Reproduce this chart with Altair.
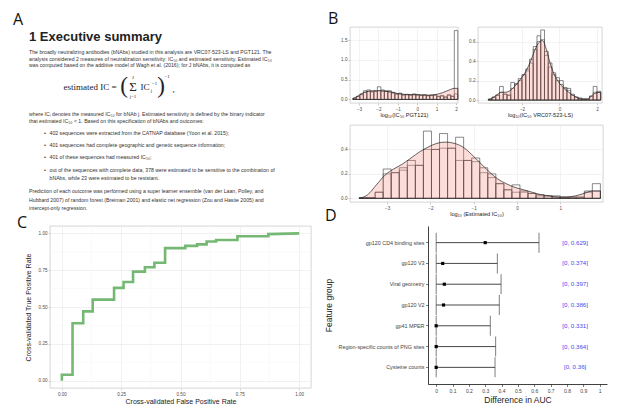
import altair as alt
import pandas as pd

SANS = "Liberation Sans, DejaVu Sans, sans-serif"
SERIF = "Liberation Serif, DejaVu Serif, serif"
LETTER = "Open Sans, Liberation Sans, sans-serif"
TXT = "#333333"
GRID = "#EBEBEB"
BORDER = "#B8B8B8"
TICKLAB = "#4D4D4D"

# ================= Panel A : report text =================
a_heading = "1 Executive summary"
a_lines = [
    "The broadly neutralizing antibodies (bNAbs) studied in this analysis are VRC07-523-LS and PGT121. The",
    "analysis considered 2 measures of neutralization sensitivity: IC₅₀ and estimated sensitivity. Estimated IC₅₀",
    "was computed based on the additive model of Wagh et al. (2016); for J bNAbs, it is computed as",
    "where ICⱼ denotes the measured IC₅₀ for bNAb j. Estimated sensitivity is defined by the binary indicator",
    "that estimated IC₅₀ < 1. Based on this specification of bNAbs and outcomes:",
    "402 sequences were extracted from the CATNAP database (Yoon et al. 2015);",
    "401 sequences had complete geographic and genetic sequence information;",
    "401 of these sequences had measured IC₅₀;",
    "out of the sequences with complete data, 378 were estimated to be sensitive to the combination of",
    "bNAbs, while 23 were estimated to be resistant.",
    "Prediction of each outcome was performed using a super learner ensemble (van der Laan, Polley, and",
    "Hubbard 2007) of random forest (Breiman 2001) and elastic net regression (Zou and Hastie 2005) and",
    "intercept-only regression.",
]
a_formula = ["estimated IC =", "(", "Σ", "J", "j=1", "IC", "j", "−1", ")", "−1", ","]

# layout of panel A (page pixels)
a_line_x = [29, 29, 29, 29, 29, 49.5, 49.5, 49.5, 49.5, 49.5, 29, 29, 29]
a_line_y = [51, 57.6, 64.3, 113, 120, 132, 144, 156, 169, 177, 190, 198.5, 207]
a_bullet_y = [132, 144, 156, 169]
a_formula_x = [90, 124, 133, 133, 133, 145, 151.5, 154.5, 161, 167, 173.5]
a_formula_y = [86, 85, 86, 76.5, 96, 86, 89.5, 82.5, 85, 75.5, 88]
a_formula_s = [9.0, 23, 13, 4.8, 4.8, 9, 4.8, 4.8, 23, 4.8, 9]

# ================= Panel B : histograms =================
b1_title = "log₁₀(IC₅₀ PGT121)"
b1_start, b1_width = -3.31, 0.18
b1_white = [0.03, 0.08, 0.14, 0.22, 0.24, 0.20, 0.21, 0.32, 0.24, 0.22, 0.22, 0.18, 0.14, 0.16, 0.12,
            0.13, 0.12, 0.14, 0.12, 0.11, 0.12, 0.10, 0.11, 0.12, 0.08, 0.10, 0.06, 0.12, 0.08, 1.74]
b1_inner = [0.03, 0.07, 0.12, 0.18, 0.20, 0.19, 0.20, 0.22, 0.21, 0.20, 0.19, 0.16, 0.13, 0.14, 0.11,
            0.12, 0.11, 0.12, 0.11, 0.10, 0.11, 0.09, 0.10, 0.10, 0.07, 0.08, 0.06, 0.10, 0.08, 0.14]
b1_dx = [-3.31, -3.1, -2.9, -2.7, -2.5, -2.3, -2.1, -1.9, -1.7, -1.5, -1.3, -1.1, -0.9, -0.7, -0.5,
         -0.3, -0.1, 0.1, 0.3, 0.5, 0.7, 0.9, 1.1, 1.3, 1.5, 1.7, 1.9, 2.09]
b1_dy = [0.02, 0.07, 0.13, 0.18, 0.21, 0.22, 0.22, 0.22, 0.21, 0.20, 0.18, 0.16, 0.14, 0.13, 0.12,
         0.12, 0.12, 0.12, 0.11, 0.11, 0.11, 0.12, 0.14, 0.17, 0.21, 0.25, 0.28, 0.28]
b1_xticks = [-3, -2, -1, 0, 1, 2]
b1_yticks = [0.0, 0.5, 1.0, 1.5]

b2_title = "log₁₀(IC₅₀ VRC07-523-LS)"
b2_start, b2_width = -3.8, 0.2
b2_white = [0.01, 0.03, 0.05, 0.14, 0.06, 0.05, 0.18, 0.17, 0.22, 0.26, 0.32, 0.42, 0.55, 0.66, 0.72,
            0.50, 0.38, 0.28, 0.23, 0.20, 0.13, 0.12, 0.06, 0.03, 0.02, 0.01, 0.01, 0.04, 0.14, 0.09]
b2_inner = [0.01, 0.03, 0.05, 0.08, 0.06, 0.05, 0.12, 0.16, 0.20, 0.26, 0.30, 0.38, 0.52, 0.60, 0.62,
            0.46, 0.34, 0.26, 0.20, 0.16, 0.12, 0.10, 0.05, 0.03, 0.02, 0.01, 0.01, 0.04, 0.08, 0.08]
b2_dx = [-3.8, -3.5, -3.3, -3.1, -2.9, -2.7, -2.5, -2.3, -2.1, -1.9, -1.7, -1.5, -1.3, -1.1, -0.9,
         -0.7, -0.5, -0.3, -0.1, 0.1, 0.3, 0.5, 0.7, 0.9, 1.1, 1.3, 1.5, 1.7, 1.9, 2.2]
b2_dy = [0.0, 0.03, 0.06, 0.08, 0.08, 0.09, 0.12, 0.16, 0.21, 0.26, 0.33, 0.42, 0.52, 0.59, 0.61,
         0.52, 0.38, 0.27, 0.20, 0.15, 0.11, 0.08, 0.05, 0.03, 0.01, 0.01, 0.01, 0.04, 0.07, 0.08]
b2_xticks = [-2, 0, 2]
b2_yticks = [0.0, 0.2, 0.4, 0.6]

b3_title = "log₁₀ (Estimated IC₅₀)"
b3_start, b3_width = -3.65, 0.186
b3_white = [0.005, 0.005, 0.05, 0.24, 0.21, 0.25, 0.31, 0.27, 0.55, 0.40, 0.53, 0.41, 0.50, 0.31, 0.33,
            0.25, 0.20, 0.12, 0.07, 0.11, 0.06, 0.04, 0.03, 0.02, 0.02, 0.01, 0.01, 0.01, 0.06, 0.12]
b3_inner = [0.005, 0.005, 0.05, 0.20, 0.21, 0.23, 0.27, 0.27, 0.40, 0.40, 0.41, 0.41, 0.31, 0.31, 0.30,
            0.21, 0.17, 0.12, 0.07, 0.05, 0.05, 0.04, 0.02, 0.02, 0.01, 0.01, 0.01, 0.01, 0.05, 0.06]
b3_dx = [-3.65, -3.45, -3.25, -3.05, -2.85, -2.65, -2.45, -2.25, -2.05, -1.85, -1.65, -1.45, -1.25,
         -1.05, -0.85, -0.65, -0.45, -0.25, -0.05, 0.15, 0.35, 0.55, 0.75, 0.95, 1.15, 1.35, 1.55, 1.75, 1.93]
b3_dy = [0.0, 0.03, 0.11, 0.19, 0.24, 0.28, 0.33, 0.38, 0.42, 0.45, 0.46, 0.45, 0.42, 0.36, 0.29,
         0.22, 0.16, 0.12, 0.09, 0.07, 0.05, 0.03, 0.02, 0.01, 0.01, 0.02, 0.04, 0.06, 0.06]
b3_xticks = [-3, -2, -1, 0, 1]
b3_yticks = [0.0, 0.2, 0.4]

# ================= Panel C : ROC curve =================
roc_fpr = [0.0, 0.0, 0.045, 0.045, 0.09, 0.09, 0.13, 0.13, 0.22, 0.22, 0.26, 0.26, 0.30, 0.30, 0.35,
           0.35, 0.39, 0.39, 0.435, 0.435, 0.52, 0.52, 0.57, 0.57, 0.61, 0.61, 0.65, 0.65, 0.74, 0.74,
           0.87, 0.87, 1.0]
roc_tpr = [0.0, 0.04, 0.04, 0.39, 0.39, 0.47, 0.47, 0.55, 0.55, 0.63, 0.63, 0.67, 0.67, 0.74, 0.74,
           0.77, 0.77, 0.80, 0.80, 0.90, 0.90, 0.915, 0.915, 0.925, 0.925, 0.945, 0.945, 0.955, 0.955,
           0.98, 0.98, 0.995, 1.0]
c_ticks = [0.0, 0.25, 0.5, 0.75, 1.0]
c_minor = [0.125, 0.375, 0.625, 0.875]

# ================= Panel D : variable importance =================
d_groups = ["gp120 CD4 binding sites", "gp120 V3", "Viral geometry", "gp120 V2", "gp41 MPER",
            "Region-specific counts of PNG sites", "Cysteine counts"]
d_est = [0.30, 0.04, 0.05, 0.045, 0.0, 0.0, 0.0]
d_lo = [0, 0, 0, 0, 0, 0, 0]
d_hi = [0.629, 0.374, 0.397, 0.386, 0.331, 0.364, 0.36]
d_xticks = [0, 0.1, 0.2, 0.3, 0.4, 0.5, 0.6, 0.7, 0.8, 0.9, 1]
d_label_x = 0.85


def letter_layer(ch, px, py):
    return alt.Chart(pd.DataFrame({"t": [ch]})).mark_text(
        font=LETTER, fontSize=16, align="left", baseline="alphabetic", color="#111"
    ).encode(text="t:N", x=alt.value(px), y=alt.value(py))


# ---------- A ----------
ax = alt.Scale(domain=[50, 308], nice=False, zero=False)
ay = alt.Scale(domain=[26, 204], nice=False, zero=False, reverse=True)


def a_enc(ch):
    return ch.encode(x=alt.X("x:Q", scale=ax, axis=None), y=alt.Y("y:Q", scale=ay, axis=None), text="t:N")


a_body = a_enc(alt.Chart(pd.DataFrame({"t": a_lines, "x": a_line_x, "y": a_line_y})).mark_text(
    font=SANS, fontSize=5.2, align="left", baseline="middle", color=TXT))
a_bul = a_enc(alt.Chart(pd.DataFrame({"t": ["•"] * len(a_bullet_y), "x": [44] * len(a_bullet_y), "y": a_bullet_y})).mark_text(
    font=SANS, fontSize=5.2, align="left", baseline="middle", color=TXT))
a_head = a_enc(alt.Chart(pd.DataFrame({"t": [a_heading], "x": [29], "y": [39.5]})).mark_text(
    font=SANS, fontSize=13, fontWeight="bold", align="left", baseline="alphabetic", color="#222"))
a_form = a_enc(alt.Chart(pd.DataFrame({"t": a_formula, "x": a_formula_x, "y": a_formula_y, "s": a_formula_s})).mark_text(
    font=SERIF, align="center", baseline="middle", color="#222")).encode(size=alt.Size("s:Q", scale=None))
a_lab = a_enc(alt.Chart(pd.DataFrame({"t": ["A"], "x": [13], "y": [23.5]})).mark_text(
    font=LETTER, fontSize=16, align="left", baseline="alphabetic", color="#111"))

panel_a = alt.layer(a_body, a_bul, a_head, a_form, a_lab).properties(width=258, height=178)


# ---------- B ----------
def hist_panel(start, width, white, inner, dxs, dys, xdom, ydom, xticks, yticks, yfmt, w, h, xtitle, letter=None):
    n = len(white)
    edges = [round(start + i * width, 4) for i in range(n + 1)]
    bars = pd.DataFrame({"x0": edges[:-1], "x1": edges[1:], "white": white, "inner": inner})
    dens = pd.DataFrame({"x": dxs, "y": dys})
    xs = alt.Scale(domain=xdom, nice=False, zero=False)
    ys = alt.Scale(domain=ydom, nice=False, zero=False)
    xa = alt.Axis(values=xticks, format="d", title=xtitle, grid=True, gridColor=GRID, gridWidth=0.6,
                  domain=False, tickSize=2, tickColor="#999999", tickWidth=0.5, labelFontSize=4.6,
                  labelColor=TICKLAB, labelPadding=1, titleFontSize=5.6, titleColor="#222222",
                  titleFontWeight="normal", titlePadding=2, labelOverlap=False)
    ya = alt.Axis(values=yticks, format=yfmt, title=None, grid=True, gridColor=GRID, gridWidth=0.6,
                  domain=False, tickSize=2, tickColor="#999999", tickWidth=0.5, labelFontSize=4.6,
                  labelColor=TICKLAB, labelPadding=1, labelOverlap=False)
    white_l = alt.Chart(bars).mark_rect(fill="white", stroke="#3A3A3A", strokeWidth=0.6).encode(
        x=alt.X("x0:Q", scale=xs, axis=xa), x2="x1:Q",
        y=alt.Y("white:Q", scale=ys, axis=ya), y2=alt.datum(0))
    inner_l = alt.Chart(bars).mark_rect(fillOpacity=0, stroke="#3A3A3A", strokeWidth=0.5).encode(
        x=alt.X("x0:Q", scale=xs, axis=xa), x2="x1:Q",
        y=alt.Y("inner:Q", scale=ys, axis=ya), y2=alt.datum(0))
    dens_l = alt.Chart(dens).mark_area(fill="#F8766D", fillOpacity=0.25, stroke="#222222", strokeWidth=0.7,
                                       interpolate="monotone").encode(
        x=alt.X("x:Q", scale=xs, axis=xa), y=alt.Y("y:Q", scale=ys, axis=ya), y2=alt.datum(0))
    layers = [white_l, inner_l, dens_l]
    if letter is not None:
        layers.append(letter_layer(*letter))
    return alt.layer(*layers).properties(
        width=w, height=h, view=alt.ViewBackground(stroke=BORDER, strokeWidth=0.6))


panel_b1 = hist_panel(b1_start, b1_width, b1_white, b1_inner, b1_dx, b1_dy, [-3.46, 2.1], [-0.09, 1.83],
                      b1_xticks, b1_yticks, ".1f", 108, 76, b1_title, letter=("B", -22, -3))
panel_b2 = hist_panel(b2_start, b2_width, b2_white, b2_inner, b2_dx, b2_dy, [-4.35, 2.27], [-0.03, 0.75],
                      b2_xticks, b2_yticks, ".1f", 124, 76, b2_title)
panel_b3 = hist_panel(b3_start, b3_width, b3_white, b3_inner, b3_dx, b3_dy, [-3.86, 1.99], [-0.03, 0.6],
                      b3_xticks, b3_yticks, ".1f", 253, 77, b3_title)

# ---------- C ----------
cxs = alt.Scale(domain=[-0.05, 1.05], nice=False, zero=False)
cys = alt.Scale(domain=[-0.05, 1.05], nice=False, zero=False)
c_axis_common = dict(values=c_ticks, format=".2f", grid=True, gridColor=GRID, gridWidth=0.7, domain=False,
                     tickSize=2, tickColor="#AAAAAA", tickWidth=0.5, labelFontSize=4.6, labelColor=TICKLAB,
                     labelPadding=1, titleFontSize=7, titleColor="#222222", titleFontWeight="normal",
                     labelOverlap=False)
cxa = alt.Axis(title="Cross-validated False Positive Rate", titlePadding=2, **c_axis_common)
cya = alt.Axis(title="Cross-validated True Positive Rate", titlePadding=7, **c_axis_common)
c_df = pd.DataFrame({"fpr": roc_fpr, "tpr": roc_tpr, "i": list(range(len(roc_fpr)))})
c_vminor = alt.Chart(pd.DataFrame({"v": c_minor})).mark_rule(color="#F5F5F5", strokeWidth=0.5).encode(
    x=alt.X("v:Q", scale=cxs, axis=cxa))
c_hminor = alt.Chart(pd.DataFrame({"v": c_minor})).mark_rule(color="#F5F5F5", strokeWidth=0.5).encode(
    y=alt.Y("v:Q", scale=cys, axis=cya))
c_line = alt.Chart(c_df).mark_line(color="#74B874", strokeWidth=2.6).encode(
    x=alt.X("fpr:Q", scale=cxs, axis=cxa), y=alt.Y("tpr:Q", scale=cys, axis=cya), order="i:Q")
panel_c = alt.layer(c_vminor, c_hminor, c_line, letter_layer("C", -33, 2)).properties(
    width=261, height=162, view=alt.ViewBackground(stroke=BORDER, strokeWidth=0.6))

# ---------- D ----------
d_df = pd.DataFrame({"g": d_groups, "est": d_est, "lo": d_lo, "hi": d_hi,
                     "lab": [f"[{a:g}, {b:g}]" for a, b in zip(d_lo, d_hi)]})
dxs = alt.Scale(domain=[-0.05, 1.045], nice=False, zero=False)
dys = alt.Scale(padding=0.6)
dxa = alt.Axis(values=d_xticks, format="~g", title="Difference in AUC", grid=False, labelFontSize=5,
               labelColor="#444444", tickSize=2.5, tickColor="#222222", tickWidth=0.6, domainColor="#111111",
               domainWidth=0.8, titleFontSize=8.5, titleColor="#222222", titleFontWeight="normal",
               titlePadding=2, labelPadding=1.5, labelOverlap=False)
dya = alt.Axis(title="Feature group", grid=False, labelFontSize=5.4, labelColor="#444444", tickSize=2.5,
               tickColor="#222222", tickWidth=0.6, domainColor="#111111", domainWidth=0.8, titleFontSize=8.5,
               titleColor="#222222", titleFontWeight="normal", titlePadding=5, labelPadding=1.5,
               labelOverlap=False)
ysort = alt.Y("g:N", sort=d_groups, scale=dys, axis=dya)
d_base = alt.Chart(d_df)
d_rule = d_base.mark_rule(color="#333333", strokeWidth=0.9).encode(
    x=alt.X("lo:Q", scale=dxs, axis=dxa), x2="hi:Q", y=ysort)
d_cap_lo = d_base.mark_tick(color="#333333", thickness=0.9, size=20).encode(
    x=alt.X("lo:Q", scale=dxs, axis=dxa), y=ysort)
d_cap_hi = d_base.mark_tick(color="#333333", thickness=0.9, size=20).encode(
    x=alt.X("hi:Q", scale=dxs, axis=dxa), y=ysort)
d_pt = d_base.mark_point(shape="square", filled=True, size=10, color="black", opacity=1).encode(
    x=alt.X("est:Q", scale=dxs, axis=dxa), y=ysort)
d_txt = d_base.mark_text(font=SANS, fontSize=6.2, color="#4A4AF0", align="center", baseline="middle").encode(
    x=alt.XDatum(d_label_x, type="quantitative", scale=dxs, axis=dxa), y=ysort, text="lab:N")
panel_d = alt.layer(d_rule, d_cap_lo, d_cap_hi, d_pt, d_txt, letter_layer("D", -103, -5)).properties(
    width=179, height=158)

# ---------- assemble ----------
b_col = alt.vconcat(alt.hconcat(panel_b1, panel_b2, spacing=8), panel_b3, spacing=5)
row1 = alt.hconcat(panel_a, b_col, spacing=19)
row2 = alt.hconcat(panel_c, panel_d, spacing=12)
chart = alt.vconcat(row1, row2, spacing=-10).properties(
    padding={"left": 13, "top": 10, "right": 2, "bottom": 2}
).configure(font=SANS).configure_view(stroke=None)

chart.save("out.html", embed_options={"renderer": "svg", "actions": False})
